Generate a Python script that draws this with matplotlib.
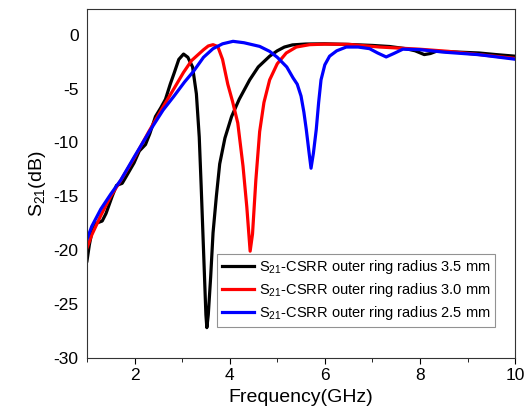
import matplotlib
matplotlib.use("Agg")
import matplotlib.pyplot as plt
from matplotlib.ticker import MultipleLocator

plt.rcParams['font.family'] = ['Liberation Sans', 'DejaVu Sans']
plt.rcParams['mathtext.fontset'] = 'custom'
plt.rcParams['mathtext.rm'] = 'Liberation Sans'
plt.rcParams['mathtext.it'] = 'Liberation Sans'
plt.rcParams['axes.unicode_minus'] = False

# frequency (GHz) / S21 (dB)
f_35 = [1.00, 1.05, 1.10, 1.20, 1.32, 1.40, 1.53, 1.62, 1.74, 1.82, 1.99, 2.10,
        2.23, 2.32, 2.44, 2.55, 2.65, 2.75, 2.83, 2.93, 3.03, 3.12, 3.22, 3.30,
        3.36, 3.40, 3.45, 3.50, 3.52, 3.55, 3.60, 3.65, 3.72, 3.79, 3.90, 4.04,
        4.20, 4.42, 4.60, 4.84, 5.00, 5.15, 5.32, 5.60, 6.00, 6.45, 7.00, 7.36,
        7.70, 7.90, 8.09, 8.22, 8.34, 8.70, 9.24, 9.60, 10.0]
s_35 = [-21.0, -19.5, -18.4, -17.5, -17.3, -16.6, -15.0, -14.0, -13.8, -13.2,
        -11.9, -10.8, -10.2, -9.2, -7.6, -6.8, -6.0, -4.6, -3.6, -2.3, -1.8,
        -2.1, -3.0, -5.5, -9.5, -14.0, -20.0, -26.0, -27.2, -26.0, -22.5, -18.4,
        -15.0, -12.0, -9.6, -7.6, -6.0, -4.2, -3.0, -2.0, -1.5, -1.15, -0.95,
        -0.87, -0.85, -0.9, -1.0, -1.1, -1.3, -1.5, -1.85, -1.75, -1.55, -1.6,
        -1.7, -1.85, -2.0]

f_30 = [1.00, 1.10, 1.30, 1.50, 1.70, 2.00, 2.30, 2.60, 2.83, 3.03, 3.20, 3.35,
        3.45, 3.55, 3.65, 3.75, 3.85, 3.96, 4.06, 4.17, 4.28, 4.36, 4.43, 4.48,
        4.55, 4.63, 4.72, 4.84, 5.00, 5.19, 5.40, 5.68, 6.00, 6.50, 7.15, 7.99,
        8.60, 9.24, 10.0]
s_30 = [-19.8, -18.6, -16.7, -15.0, -13.6, -11.4, -9.0, -6.7, -5.0, -3.5, -2.4,
        -1.8, -1.4, -1.05, -0.93, -1.1, -2.3, -4.6, -6.2, -8.2, -12.2, -16.0,
        -20.1, -18.5, -13.5, -9.0, -6.3, -4.2, -2.7, -1.7, -1.15, -0.93, -0.88,
        -0.9, -1.15, -1.35, -1.55, -1.85, -2.2]

f_25 = [1.00, 1.10, 1.29, 1.50, 1.71, 2.00, 2.34, 2.60, 2.83, 3.05, 3.24, 3.45,
        3.65, 3.85, 4.07, 4.30, 4.63, 4.84, 5.00, 5.20, 5.33, 5.42, 5.50, 5.56,
        5.61, 5.67, 5.71, 5.76, 5.82, 5.87, 5.92, 6.00, 6.10, 6.25, 6.45, 6.70,
        6.94, 7.11, 7.29, 7.45, 7.64, 7.99, 8.55, 9.24, 10.0]
s_25 = [-19.0, -17.8, -16.2, -14.8, -13.5, -11.3, -8.8, -7.0, -5.7, -4.4, -3.4,
        -2.1, -1.3, -0.85, -0.62, -0.75, -1.09, -1.55, -2.1, -3.0, -4.0, -4.6,
        -5.7, -7.2, -8.8, -11.0, -12.4, -11.0, -8.8, -6.3, -4.2, -2.8, -2.0, -1.5,
        -1.15, -1.15, -1.3, -1.7, -2.07, -1.75, -1.35, -1.39, -1.64, -1.86, -2.28]

labels = ['S$_{21}$-CSRR outer ring radius 3.5 mm',
          'S$_{21}$-CSRR outer ring radius 3.0 mm',
          'S$_{21}$-CSRR outer ring radius 2.5 mm']

fig = plt.figure(figsize=(5.24, 4.19), dpi=100)
ax = fig.add_axes([0.166, 0.146, 0.817, 0.833])

ax.plot(f_35, s_35, color='black', lw=2.3, label=labels[0])
ax.plot(f_30, s_30, color='red', lw=2.3, label=labels[1])
ax.plot(f_25, s_25, color='blue', lw=2.3, label=labels[2])

ax.set_xlim(1, 10)
ax.set_ylim(-30, 2.4)
ax.xaxis.set_major_locator(MultipleLocator(2))
ax.xaxis.set_minor_locator(MultipleLocator(1))
ax.yaxis.set_major_locator(MultipleLocator(5))
ax.tick_params(axis='x', which='major', length=4, direction='out', labelsize=12.5)
ax.tick_params(axis='x', which='minor', length=3, direction='out')
ax.tick_params(axis='y', which='both', length=0, labelsize=12.5, pad=6)
for s in ax.spines.values():
    s.set_color('#333333')

ax.set_xlabel('Frequency(GHz)', fontsize=14)
ax.set_ylabel('S$_{21}$(dB)', fontsize=14)

leg = ax.legend(loc='lower right', bbox_to_anchor=(0.953, 0.089), fontsize=10.5,
                frameon=True, fancybox=False, handlelength=2.2,
                borderpad=0.3, labelspacing=0.35, handletextpad=0.35,
                borderaxespad=0)
leg.get_frame().set_edgecolor('#777777')
leg.get_frame().set_linewidth(0.8)

fig.savefig('out.png', dpi=100)
